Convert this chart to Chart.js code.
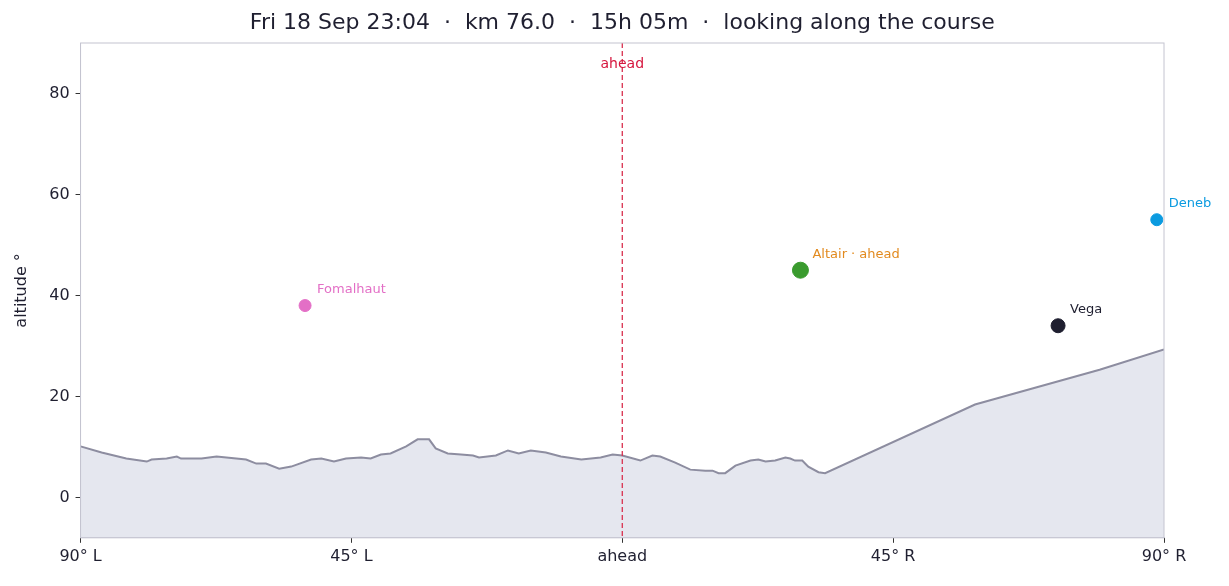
<!DOCTYPE html>
<html><head><meta charset="utf-8">
<script src="https://cdn.jsdelivr.net/npm/chart.js@4"></script>
<style>html,body{margin:0;background:#fff}#w{width:1229px;height:586px}</style>
</head><body><div id="w"><canvas id="c"></canvas></div>
<script>
const titleText='Fri 18 Sep 23:04  ·  km 76.0  ·  15h 05m  ·  looking along the course';
const terrainAz=[-90,-86.5,-82.4,-79,-78.2,-75.7,-74,-73.3,-69.9,-67.4,-62.5,-60.8,-59.2,-57,-55,-51.7,-50,-47.9,-45.9,-43.4,-41.8,-40.1,-38.5,-35.9,-34,-32.1,-31,-29,-26.8,-24.8,-23.8,-21,-19,-17.2,-15.2,-12.7,-10.2,-6.8,-3.6,-1.6,0,3,5,6.3,8.8,11.3,13.8,15,16,17.1,18.8,21.3,22.6,23.8,25.4,27.1,27.9,28.7,29.9,30.9,32.6,33.7,58.6,79.3,90];
const terrainAlt=[10.1,8.9,7.7,7.1,7.5,7.7,8.1,7.7,7.7,8.1,7.5,6.7,6.7,5.7,6.1,7.5,7.7,7.1,7.7,7.9,7.7,8.5,8.7,10.1,11.5,11.5,9.7,8.7,8.5,8.3,7.9,8.3,9.3,8.7,9.3,8.9,8.1,7.5,7.9,8.5,8.3,7.3,8.3,8.1,6.9,5.5,5.3,5.3,4.8,4.8,6.3,7.3,7.5,7.1,7.3,7.9,7.7,7.3,7.3,6.1,5.0,4.8,18.4,25.3,29.3];
const starNames=['Fomalhaut','Altair · ahead','Vega','Deneb'];
const starAz=[-52.7,29.6,72.4,88.8];
const starAlt=[38,45,34,55];
const starColors=['#e36fc6','#3a9b2e','#1f1f30','#0b9be0'];
const labelColors=['#e36fc6','#e28a1e','#1f1f30','#0b9be0'];
const starRadius=[6,8,7,6];
const xTicks={'-90':'90° L','-45':'45° L','0':'ahead','45':'45° R','90':'90° R'};

const overlay={id:'ov',afterDatasetsDraw(ch){
  const {ctx,scales:{x,y},chartArea:a}=ch;
  ctx.save();
  const px=x.getPixelForValue(0);
  ctx.strokeStyle='#d9304f';ctx.lineWidth=1.3;ctx.setLineDash([5,3]);
  ctx.beginPath();ctx.moveTo(px,y.top);ctx.lineTo(px,y.bottom);ctx.stroke();
  ctx.setLineDash([]);
  ctx.font='14px "DejaVu Sans"';ctx.fillStyle='#d6163e';ctx.textAlign='center';ctx.textBaseline='middle';
  ctx.fillText('ahead',px,y.top+21);
  ctx.font='22px "DejaVu Sans"';ctx.fillStyle='#1f1f30';
  ctx.fillText(titleText,(a.left+a.right)/2,23);
  ctx.font='13px "DejaVu Sans"';ctx.textAlign='left';
  starNames.forEach((n,i)=>{
    ctx.fillStyle=labelColors[i];
    ctx.fillText(n,x.getPixelForValue(starAz[i])+12,y.getPixelForValue(starAlt[i])-16);
  });
  ctx.restore();
}};

new Chart(document.getElementById('c'),{
  type:'scatter',
  data:{datasets:[
    {type:'line',data:terrainAz.map((a,i)=>({x:a,y:terrainAlt[i]})),borderColor:'#8d8da0',borderWidth:2,backgroundColor:'#e5e7ef',fill:'start',pointRadius:0,tension:0},
    {data:starAz.map((a,i)=>({x:a,y:starAlt[i]})),backgroundColor:starColors,borderColor:starColors,pointRadius:starRadius,pointHoverRadius:starRadius}
  ]},
  options:{responsive:true,maintainAspectRatio:false,animation:false,
    layout:{padding:{left:8,right:65,top:43,bottom:16}},
    plugins:{legend:{display:false},tooltip:{enabled:false},title:{display:false}},
    scales:{
      x:{type:'linear',min:-90,max:90,grid:{display:true,drawOnChartArea:false,drawTicks:true,tickLength:5,color:'#333'},border:{color:'#c4c4d0'},
        afterBuildTicks(s){s.ticks=[-90,-45,0,45,90].map(v=>({value:v}));},
        ticks:{color:'#1f1f30',padding:4,font:{family:'DejaVu Sans',size:16},autoSkip:false,maxRotation:0,callback:v=>xTicks[v]}},
      y:{min:-8,max:90,grid:{display:true,drawOnChartArea:false,tickLength:5,color:'#333'},border:{color:'#c4c4d0'},
        afterBuildTicks(s){s.ticks=[0,20,40,60,80].map(v=>({value:v}));},
        ticks:{color:'#1f1f30',padding:6,font:{family:'DejaVu Sans',size:16}},
        title:{display:true,text:'altitude °',color:'#1f1f30',padding:{top:4,bottom:12},font:{family:'DejaVu Sans',size:16}}}
    }},
  plugins:[overlay,{id:'box',afterDraw(ch){const {ctx,chartArea:a}=ch;ctx.save();ctx.strokeStyle='#c4c4d0';ctx.lineWidth=1;ctx.strokeRect(a.left,a.top,a.right-a.left,a.bottom-a.top);ctx.restore();}}]
});
</script></body></html>
